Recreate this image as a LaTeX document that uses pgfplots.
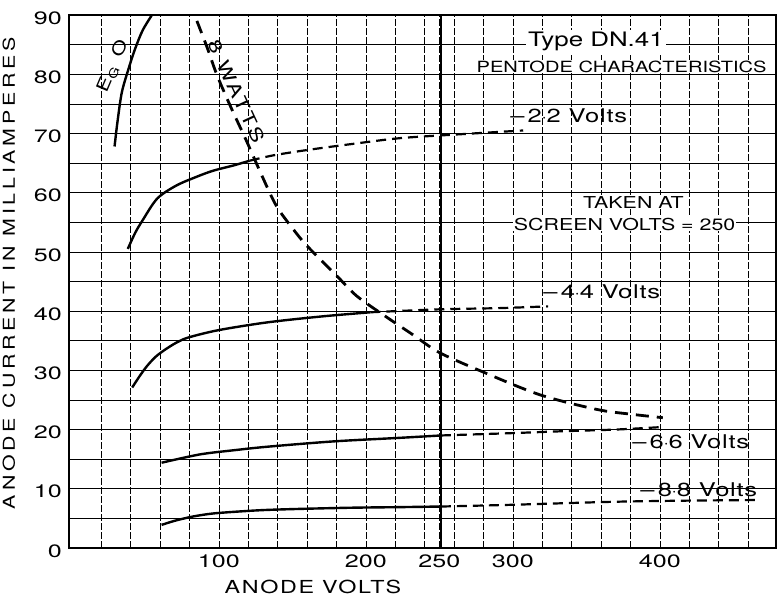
\documentclass[border=0pt]{standalone}
\usepackage{fontspec}
\setmainfont{TeX Gyre Heros}
\newfontfamily\tickfont[FakeStretch=1.4]{TeX Gyre Heros}
\newfontfamily\widefont[FakeStretch=1.3]{TeX Gyre Heros}
\newfontfamily\voltfont[FakeStretch=1.35,LetterSpace=4]{TeX Gyre Heros}
\newfontfamily\xlabfont[FakeStretch=1.3,LetterSpace=9]{TeX Gyre Heros}
\newfontfamily\ylabfont[FakeStretch=1.3,LetterSpace=23]{TeX Gyre Heros}
\newfontfamily\wattfont[FakeStretch=1.3,LetterSpace=15]{TeX Gyre Heros}
\usepackage{pgfplots}
\pgfplotsset{compat=1.18}
\begin{document}
\begin{tikzpicture}
\begin{axis}[
  scale only axis, width=707bp, height=533bp,
  xmin=-2, xmax=479, ymin=0, ymax=90,
  axis line style={line width=1.6bp},
  xtick={100,200,250,300,400}, ytick={0,10,...,90},
  minor xtick={20,40,...,460}, minor ytick={5,15,...,85},
  major tick length=0pt, minor tick length=0pt,
  grid=both,
  x grid style={black, line width=0.6bp, dash pattern=on 7bp off 2bp},
  y grid style={black, line width=0.6bp},
  /pgf/number format/assume math mode=true,
  /pgf/number format/1000 sep={},
  tick label style={font=\tickfont\fontsize{18}{18}\selectfont, inner sep=0pt},
  xticklabel style={anchor=north, yshift=-7bp},
  yticklabel style={anchor=east, xshift=-7bp, yshift=-3bp},
  clip mode=individual,
]
% E_G 0
\addplot[black, line width=2.4bp, smooth] coordinates {(29,67.8)(31,72)(34,77)(39,81.3)(43,84.3)(48.3,87.5)(56,90.6)};
% -2.2 V
\addplot[black, line width=2.4bp, smooth] coordinates {(38,50.5)(43,53.2)(48,55.3)(58,59)(71,61.2)(85,62.7)(96,63.7)(110,64.6)(121,65.4)};
\addplot[black, line width=2.2bp, smooth, dash pattern=on 10bp off 6bp] coordinates {(121,65.4)(137,66.3)(160,67.2)(190,68.2)(223,69.2)(260,69.8)(307,70.5)};
% -4.4 V
\addplot[black, line width=2.4bp, smooth] coordinates {(41,27.1)(46,29)(51,30.7)(57,32.3)(64,33.6)(72,34.8)(80,35.6)(100,36.8)(133,38.1)(170,39.1)(203,39.8)};
\addplot[black, line width=2.2bp, smooth, dash pattern=on 10bp off 6bp] coordinates {(203,39.8)(250,40.3)(290,40.5)(324,40.8)};
% -6.6 V
\addplot[black, line width=2.4bp, smooth] coordinates {(61,14.4)(87,15.8)(110,16.5)(133,17.1)(178,18)(223,18.6)(251,19)};
\addplot[black, line width=2.2bp, smooth, dash pattern=on 10bp off 6bp] coordinates {(251,19)(300,19.4)(332,19.7)(370,20)(400,20.4)};
% -8.8 V
\addplot[black, line width=2.4bp, smooth] coordinates {(61,3.9)(70,4.6)(82,5.3)(95,5.8)(110,6.1)(130,6.4)(155,6.6)(190,6.8)(223,6.9)(251,7.0)};
\addplot[black, line width=2.2bp, smooth, dash pattern=on 10bp off 6bp] coordinates {(251,7.0)(300,7.3)(368,7.8)(420,8)(468,8.1)};
% 8 watts
\addplot[black, line width=2.8bp, smooth, dash pattern=on 13bp off 8bp] coordinates {(85,89)(92,84.5)(98.6,79.9)(108,74.5)(119,68.6)(129,63)(139,57.8)(150,54)(160,51)(180,46)(194,42.5)(214,39)(232,36)(250,33)(278,29.9)(318,25.9)(357,23.4)(380,22.6)(402,22)};
% screen volts line
\addplot[black, line width=2.6bp] coordinates {(251,0)(251,90)};
% labels
\node[rotate=67, font=\widefont\fontsize{17}{17}\selectfont] at (axis cs:28,81.4) {E\raisebox{-0.35ex}{\fontsize{12}{12}\selectfont G}\hspace{11bp}O};
\node[rotate=-65, font=\wattfont\fontsize{18}{18}\selectfont] at (axis cs:112,77.1) {8\hspace{10bp}WATTS};
\node[fill=white, inner sep=2bp, font=\widefont\fontsize{20}{20}\selectfont] at (axis cs:356.5,85.5) {Type DN.41};
\node[fill=white, inner sep=1bp, font=\widefont\fontsize{15.5}{15.5}\selectfont] at (axis cs:374,81.3) {PENTODE CHARACTERISTICS};
\node[font=\voltfont\fontsize{19}{19}\selectfont] at (axis cs:338,73.0) {\textendash\,2$\cdot$2 Volts};
\node[fill=white, inner sep=1bp, font=\widefont\fontsize{16.5}{16.5}\selectfont] at (axis cs:382,58.4) {TAKEN AT};
\node[fill=white, inner sep=1bp, font=\widefont\fontsize{16.5}{16.5}\selectfont] at (axis cs:376,54.7) {SCREEN VOLTS = 250};
\node[font=\voltfont\fontsize{19}{19}\selectfont] at (axis cs:360.5,43.2) {\textendash\,4$\cdot$4 Volts};
\node[font=\voltfont\fontsize{19}{19}\selectfont] at (axis cs:421,17.9) {\textendash\,6$\cdot$6 Volts};
\node[font=\voltfont\fontsize{19}{19}\selectfont] at (axis cs:426.5,9.8) {\textendash\,8$\cdot$8 Volts};
\node[font=\xlabfont\fontsize{18}{18}\selectfont] at (axis description cs:0.345,-0.073) {ANODE VOLTS};
\node[rotate=90, font=\ylabfont\fontsize{16.5}{16.5}\selectfont] at (axis description cs:-0.0849,0.516) {ANODE CURRENT IN MILLIAMPERES};
\coordinate (bl) at (rel axis cs:0,0);
\coordinate (tr) at (rel axis cs:1,1);
\end{axis}
\pgfresetboundingbox
\path[use as bounding box] ([xshift=-69bp,yshift=-48bp]bl) rectangle ([xshift=2bp,yshift=15bp]tr);
\end{tikzpicture}
\end{document}
